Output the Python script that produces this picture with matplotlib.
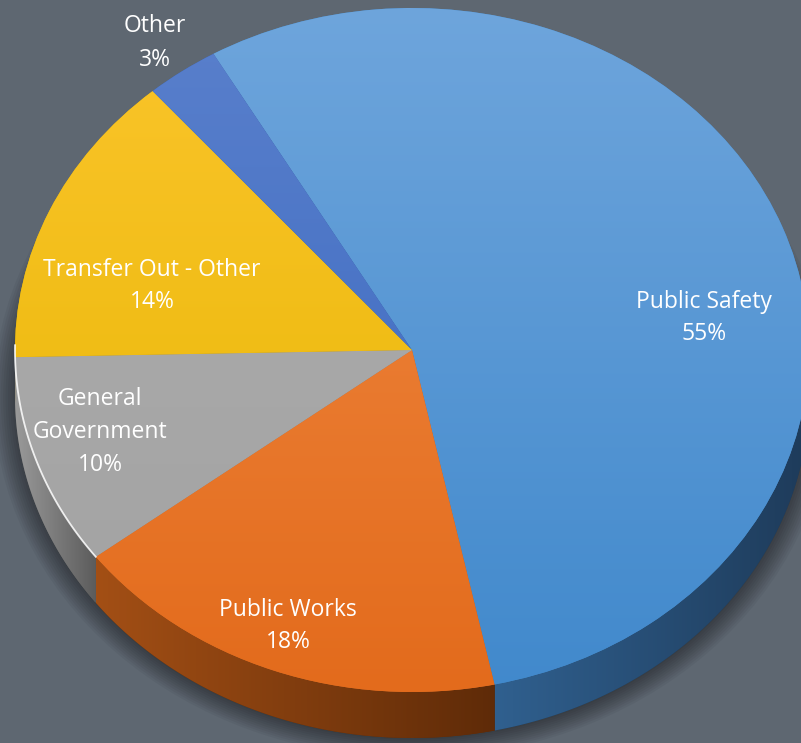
import numpy as np
import matplotlib.pyplot as plt
from matplotlib.colors import LinearSegmentedColormap
from matplotlib.patches import Polygon, Ellipse

categories = ["Public Safety", "Public Works", "General\nGovernment", "Transfer Out - Other", "Other"]
shares = [55, 18, 10, 14, 3]

# (top, bottom) gradient of each slice face, and (left, right) gradient of its rim
face_colors = [("#6ea5dc", "#4189cc"), ("#f08b45", "#e36b1c"), ("#aeaeae", "#a2a2a2"),
               ("#fbc52c", "#e6b500"), ("#5a80cc", "#3766bf")]
rim_colors = [("#30608f", "#1e3b5a"), ("#a34f15", "#5f2b08"), ("#9a9a9a", "#5c5c5c"),
              ("#b88f00", "#8a6a00"), ("#2a4c8c", "#1e3a70")]

# where each label block sits, in pixels
label_px = [(704, 318), (288, 626), (100, 432), (152, 286), (155, 43)]

W, H = 801, 743
cx, cy, rx, ry = 412, 350, 397, 342
depth = 46 / ry
bg = "#5e6771"

fig = plt.figure(figsize=(W / 100, H / 100), dpi=100, facecolor=bg)
ax = fig.add_axes([0, 0, 1, 1])
ax.set_facecolor(bg)

wedges, _ = ax.pie(shares, startangle=120, counterclock=False, radius=1, center=(0, 0),
                   wedgeprops=dict(linewidth=0), frame=False)
ax.set_aspect("auto")
ax.set_xlim(-cx / rx, (W - cx) / rx)
ax.set_ylim(-(H - cy) / ry, cy / ry)
ax.axis("off")

# soft drop shadow under the disc
for k in range(10):
    r = 1.0 + 0.006 * k
    ax.add_patch(Ellipse((0.0, -depth - 0.005), 2 * r, 2 * r, color="black",
                         alpha=0.045, lw=0, zorder=0.5))

grad_v = np.linspace(0, 1, 256).reshape(-1, 1)
grad_h = np.linspace(0, 1, 256).reshape(1, -1)

# rim of the slices that face the viewer
for w, (c_left, c_right) in zip(wedges, rim_colors):
    a, b = w.theta1, w.theta2
    for base in (-540, -180, 180):
        lo, hi = max(a, base), min(b, base + 180)
        if hi - lo <= 0.05:
            continue
        t = np.radians(np.linspace(lo, hi, 120))
        xs, ys = np.cos(t), np.sin(t)
        pts = np.concatenate([np.column_stack([xs, ys]),
                              np.column_stack([xs[::-1], ys[::-1] - depth])])
        poly = Polygon(pts, closed=True, facecolor=c_right, lw=0, zorder=1)
        ax.add_patch(poly)
        x0, x1 = xs.min(), xs.max()
        cmap = LinearSegmentedColormap.from_list("rim", [c_left, c_right])
        im = ax.imshow(grad_h, extent=(x0, x1, -1 - depth, 0.2), origin="lower",
                       cmap=cmap, aspect="auto", zorder=1.1, interpolation="bilinear")
        im.set_clip_path(poly)

# gradient fill of the top faces
for w, (c_top, c_bot) in zip(wedges, face_colors):
    w.set_facecolor(c_bot)
    w.set_zorder(2)
    cmap = LinearSegmentedColormap.from_list("face", [c_bot, c_top])
    im = ax.imshow(grad_v, extent=(-1, 1, -1, 1), origin="lower", cmap=cmap,
                   aspect="auto", zorder=2.1, interpolation="bilinear")
    im.set_clip_path(w)

# light edge along the grey slice
gw = wedges[2]
t = np.radians(np.linspace(gw.theta1 - 2, gw.theta2, 80))
ax.plot(np.cos(t), np.sin(t), color="white", lw=1.3, alpha=0.85, zorder=3)

for name, pct, (px, py) in zip(categories, shares, label_px):
    ax.text((px - cx) / rx, (cy - py) / ry, f"{name}\n{pct}%", ha="center", va="center",
            color="white", fontsize=16.5, family="Open Sans", linespacing=1.5, zorder=4)

fig.savefig("out.png", dpi=100, facecolor=bg)
